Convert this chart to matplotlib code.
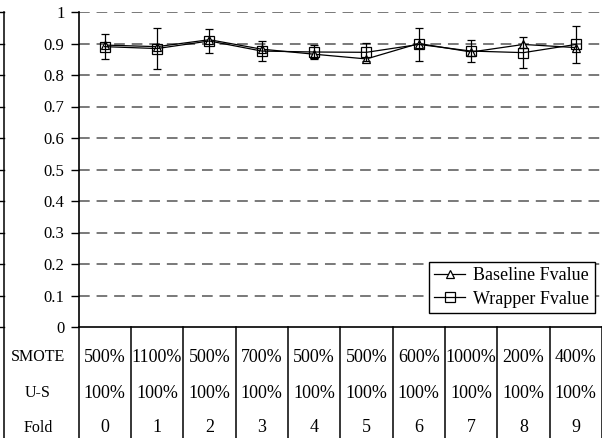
import numpy as np
import matplotlib
matplotlib.use("Agg")
import matplotlib.pyplot as plt
from matplotlib.transforms import blended_transform_factory

plt.rcParams['font.family'] = ['Liberation Serif', 'DejaVu Serif']
plt.rcParams['font.size'] = 12

folds = ['0', '1', '2', '3', '4', '5', '6', '7', '8', '9']
smote = ['500%', '1100%', '500%', '700%', '500%', '500%', '600%', '1000%', '200%', '400%']
undersample = ['100%'] * 10
baseline_f = [0.895, 0.890, 0.912, 0.882, 0.866, 0.851, 0.900, 0.873, 0.897, 0.887]
wrapper_f = [0.890, 0.884, 0.908, 0.876, 0.873, 0.872, 0.897, 0.876, 0.871, 0.897]
wrapper_err = [0.039, 0.065, 0.037, 0.031, 0.022, 0.029, 0.053, 0.035, 0.050, 0.058]
y_ticks = [0, 0.1, 0.2, 0.3, 0.4, 0.5, 0.6, 0.7, 0.8, 0.9, 1]

W, H = 602, 438
fig = plt.figure(figsize=(W / 100, H / 100), dpi=100)
x0, x1, ytop, ybot = 78.5, 602, 12, 327
ax = fig.add_axes([x0 / W, 1 - ybot / H, (x1 - x0) / W, (ybot - ytop) / H])

n = len(folds)
xs = np.arange(n) + 0.5
ax.set_xlim(0, n)
ax.set_ylim(0, 1)

# dashed horizontal grid
for t in y_ticks[1:]:
    ax.axhline(t, color='#555555', lw=1.1, ls=(0, (7, 4.5)), zorder=0)

ax.plot(xs, baseline_f, color='black', lw=0.9, marker='^', ms=5.5,
        mfc='white', mec='black', mew=0.9, label='Baseline Fvalue', zorder=3)
eb = ax.errorbar(xs, wrapper_f, yerr=wrapper_err, color='black', lw=0.9,
                 marker='s', ms=7, mfc='none', mec='black', mew=0.9,
                 ecolor='black', elinewidth=0.9, capsize=3, capthick=0.9,
                 label='Wrapper Fvalue', zorder=4)

for s in ['top', 'right']:
    ax.spines[s].set_visible(False)
ax.spines['left'].set_linewidth(1.2)
ax.spines['bottom'].set_linewidth(1.2)
ax.set_xticks([])
ax.set_yticks(y_ticks)
ax.set_yticklabels(['0', '0.1', '0.2', '0.3', '0.4', '0.5', '0.6', '0.7', '0.8', '0.9', '1'])
ax.tick_params(axis='y', direction='out', length=6, width=1, pad=4, labelsize=12)

handles, labels = ax.get_legend_handles_labels()
leg = ax.legend([handles[0], eb.lines[0]], labels, loc='lower right',
                bbox_to_anchor=(0.986, 0.044), fancybox=False, framealpha=1,
                edgecolor='black', fontsize=13, handlelength=1.7,
                handletextpad=0.45, borderpad=0.3, labelspacing=0.35,
                borderaxespad=0)
leg.get_frame().set_linewidth(1.0)

# data table below the axis
tr = blended_transform_factory(ax.transData, ax.transAxes)
tbot = -(H - ybot) / (ybot - ytop) - 0.01
for k in range(n + 1):
    ax.plot([k, k], [0, tbot], transform=tr, color='black', lw=1.1, clip_on=False)

row_y = [357, 393, 428]
rows = [smote, undersample, folds]
row_names = ['SMOTE', 'U-S', 'Fold']
for ry, vals, name in zip(row_y, rows, row_names):
    ya = (ybot - ry) / (ybot - ytop)
    for xi, v in zip(xs, vals):
        ax.text(xi, ya, v, transform=tr, ha='center', va='center', fontsize=13)
    fig.text(38 / W, 1 - ry / H, name, ha='center', va='center', fontsize=11.5)

# outer frame line on the far left with its own tick marks
fx = 3.5 / W
fig.add_artist(plt.Line2D([fx, fx], [0, 1 - ytop / H], color='black', lw=1.1))
for t in y_ticks:
    yy = 1 - (ybot - t * (ybot - ytop)) / H
    fig.add_artist(plt.Line2D([0, fx], [yy, yy], color='black', lw=1.0))

fig.savefig('out.png', dpi=100)
